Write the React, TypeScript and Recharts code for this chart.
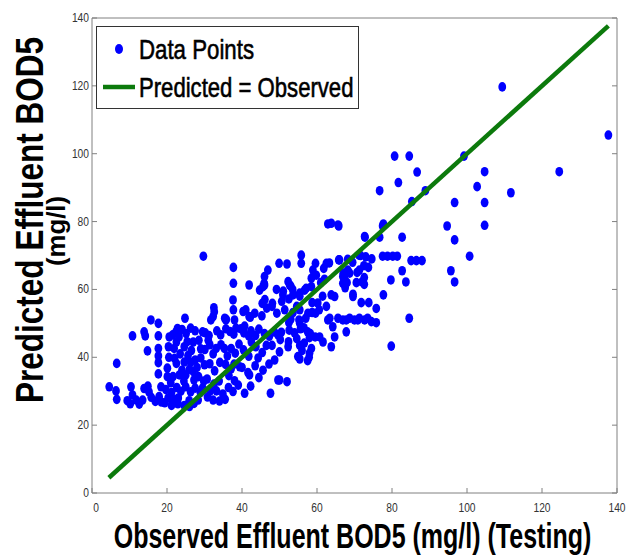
import { Label, Legend, Scatter, ScatterChart, XAxis, YAxis } from 'recharts'

const axisTicks = [0, 20, 40, 60, 80, 100, 120, 140]
const fitLine = [
  { x: 4.5, y: 4.5 },
  { x: 137.7, y: 137.7 },
]

// observed, predicted
const farLeft: [number, number][] = [
  [4.6, 31.3], [6.6, 38.2], [6.4, 30.1], [6.6, 27.6], [10.4, 31.3], [10.8, 28.9], [9.4, 27.2], [10.2, 26.3],
  [11.8, 27.4], [12.6, 26.2], [13.9, 30.8], [15.2, 29.8], [14.9, 31.5], [13.5, 27.4], [15.8, 28.2], [10.8, 46.3],
  [13.9, 47.5], [14.2, 46.3], [15.7, 51], [17.7, 50], [17.7, 46.3], [14.8, 41.9], [17.7, 42.6], [17.7, 40.4],
  [17.7, 38.4], [17.7, 35.1], [18.4, 31.3], [17.9, 28.4], [18.5, 26.8], [16.9, 27],
]

const lowCluster: [number, number][] = [
  [20.6, 46], [20.4, 43.1], [21.9, 42.6], [22.4, 47.5], [24, 48.2], [25.1, 47], [26.3, 48.6], [27.5, 47.8],
  [24.8, 51.5], [25.4, 44.6], [24.6, 43.1], [27, 44.5], [28.5, 45], [22, 39.7], [22.5, 38.2], [24.6, 38.6],
  [26.3, 38.5], [27.5, 39.2], [29, 39.8], [20.1, 36.8], [20.1, 34.3], [21.6, 34.3], [23.3, 34.8], [25, 34.8],
  [27.2, 33.3], [28.4, 34.3], [19.7, 30.5], [21.2, 29.6], [22.6, 31.1], [23.7, 30], [25, 31.3], [26.3, 29.8],
  [27.5, 30.9], [28.9, 29.6], [19.4, 26.6], [21.2, 25.8], [22.9, 26.3], [24.6, 25.8], [25.9, 27.2], [27.2, 26.4],
  [28.3, 27.4], [21, 32.5], [23, 28], [24.5, 33], [26, 36.5], [28, 37], [23.5, 41], [20.5, 40],
  [26.5, 42], [22.5, 44.5], [29, 42.5], [29.5, 47.5], [29.8, 33], [29.5, 31], [22, 27.5], [26, 25.5],
  [20.3, 28], [24, 36.2], [27, 35.8], [25.6, 40.5], [23.2, 46], [21.5, 46.6], [22.8, 48.5],
]

const midLeft: [number, number][] = [
  [29.7, 69.8], [37.7, 66.5], [37.7, 61.8], [37.6, 56.9], [37.7, 54], [32.6, 53.4], [31.7, 51], [35.7, 51],
  [32.5, 54.6], [35.8, 51.2], [38, 51], [32.3, 52], [35.4, 51.5], [30.2, 47.2], [31.2, 46.4], [31, 45],
  [33.3, 47.8], [34.3, 46.6], [35.7, 48.4], [36.8, 47.6], [37.8, 46.8], [38.4, 48.6], [39.7, 48.4], [30.1, 42.3],
  [31.4, 43.7], [32.3, 41], [33.1, 42.6], [34.4, 43.7], [35.3, 42.6], [36.1, 40.4], [37.1, 42.6], [38.2, 41.2],
  [39.2, 43.9], [30, 37.8], [31.4, 38.1], [32.7, 36], [34.1, 38.5], [35.6, 37.9], [37.1, 36.6], [37.9, 38],
  [39.4, 37.2], [30.7, 33.6], [32.5, 32.1], [33.9, 33], [33.2, 30.1], [34.9, 29.2], [36.4, 31.1], [38, 33.1],
  [37.6, 29.9], [35.5, 27.6], [30.8, 28.3], [32.3, 27.4], [34, 27.1], [31.5, 30], [36.5, 34.6], [39, 31.8],
]

const midCluster: [number, number][] = [
  [41.9, 61.3], [46.9, 65.7], [44.7, 59.8], [45.9, 61.8], [45.6, 60.8], [41, 54], [41.9, 52], [45.4, 55.9],
  [48.1, 55.9], [40.3, 53.5], [42.2, 51.8], [43.4, 53], [40.7, 49.2], [45.3, 52.2], [46.1, 57], [48, 55],
  [49.3, 53], [50.6, 56.5], [51.4, 54], [52.5, 57.2], [53.6, 53.2], [46.6, 54.5], [40.5, 47.2], [41.8, 46.3],
  [42.4, 47.8], [43.6, 46.4], [44.5, 48.3], [46, 47], [47.3, 46.2], [48.6, 47.5], [49.6, 46.6], [40.4, 42.2],
  [41.8, 40.3], [43.7, 43.1], [45.4, 41.4], [46.5, 43.5], [48, 43.5], [48.7, 39.2], [44.3, 39.8], [42.5, 44.5],
  [40, 37], [41.6, 35.5], [42, 34.8], [43.5, 37.5], [45.6, 36.2], [47.2, 38], [44.5, 34], [40.7, 29.4],
  [47.6, 29.4], [49.6, 33.3], [42.3, 31.5], [46, 63.8], [46, 61.3], [49.2, 60], [51, 59.5],
]

const midRight: [number, number][] = [
  [49.9, 67.7], [52, 67.5], [55.8, 70.1], [55.8, 67.7], [59.6, 67.7], [58.9, 65.7], [59.8, 64.2], [52.3, 62.3],
  [52.7, 61.3], [50.9, 58.4], [53.6, 58.4], [55.4, 58], [54.6, 55], [57.1, 60.3], [58.7, 53.2], [60.6, 54],
  [55.2, 51], [57, 51.5], [52.5, 50.2], [53, 51.2], [50.5, 47.4], [52.6, 48], [54, 47.2], [55.6, 48.4],
  [57.5, 47.5], [50.2, 45.2], [52.4, 44.6], [54.6, 45.5], [56.6, 44.2], [58, 45.8], [58.5, 42.6], [58, 41.2],
  [54.9, 40.2], [52.3, 43.1], [50, 41.6], [50, 33.3], [52, 32.8], [58.7, 56.1], [55.4, 54], [57.6, 53],
  [59.6, 53], [55.4, 50], [56.5, 48.7], [58.2, 47], [59.5, 46], [61.6, 44.5], [55.4, 43.5], [56, 42],
  [57.9, 40], [57.5, 39], [55.4, 39.5], [58.5, 60.8], [58.5, 63.3], [56.7, 59.8], [55.4, 58.9], [53, 61],
  [53.5, 60],
]

const upperRight: [number, number][] = [
  [62.9, 79.3], [65.6, 79], [62.5, 67.7], [61.8, 66.2], [66, 68.7], [68.2, 68.9], [71.2, 70.1], [72.7, 75.6],
  [70.7, 65], [72.5, 67], [74.6, 69], [67, 64.8], [68, 62], [67.5, 60.5], [70.5, 62], [72, 62.2],
  [63.8, 58.4], [64.7, 57.9], [69.6, 57.9], [71.8, 56.1], [73.8, 56.1], [75.8, 54.4], [63.4, 51.5], [65.6, 51.5],
  [68.7, 51.5], [71.3, 51.5], [73.5, 51.5], [75.8, 50.2], [64.7, 46], [67.8, 47.5], [63.8, 43.1], [60.7, 46],
  [62.9, 51], [66.9, 51], [67.8, 51], [70, 51], [70.9, 51], [72.7, 51], [74.5, 50.5], [64.2, 49],
  [63.8, 79.5], [65.8, 78.7], [65.8, 68.7], [68.7, 64.8], [66.9, 63.8], [66.9, 61.8], [71.6, 70], [73, 69.6],
  [71.3, 65.7], [72.6, 63.5], [72.6, 61.5], [73.7, 66.5], [69.6, 58.6], [63.3, 67.8], [69.5, 68], [68.2, 65.7],
  [67.3, 63.3], [60.2, 56], [61.5, 58], [62.5, 55], [61, 62], [62, 63],
]

const highObserved: [number, number][] = [
  [76.7, 89.1], [80.7, 99.3], [84.6, 99.3], [86.7, 94.6], [81.7, 91.5], [88.9, 89.1], [85.3, 85.9], [77.5, 78.7],
  [82.7, 75.4], [76.7, 75.4], [72.8, 75.4], [77.7, 79.3], [77.5, 69.8], [78.8, 69.8], [80.2, 69.8], [81.4, 69.8],
  [85.1, 68.5], [86.5, 68.5], [88, 68.5], [82.7, 65.5], [83.7, 62.2], [79.7, 62.8], [77.7, 58.4], [84.6, 51.5],
  [79.8, 43.3], [99.2, 99.3], [96.7, 85.6], [94.7, 78.7], [96.7, 74.6], [100.7, 69.8], [95.7, 65.5], [96.7, 62.2],
  [109.4, 119.7], [137.7, 105.5], [124.6, 94.7], [111.7, 88.5], [104.7, 94.7], [102.7, 90.3], [104.7, 85.6], [104.7, 78.9],
]

const points = [...farLeft, ...lowCluster, ...midLeft, ...midCluster, ...midRight, ...upperRight, ...highObserved].map(
  ([x, y]) => ({ x, y })
)

const axisGray = '#808080'
const dotBlue = '#0000ff'
const lineGreen = '#0c7a0c'
const sans = '"Liberation Sans", Arial, sans-serif'

const Dot = (props: any) => <ellipse cx={props.cx} cy={props.cy} rx={3.9} ry={4.8} fill={dotBlue} />

// narrow-looking tick labels: squeeze Liberation Sans horizontally
const BottomTick = ({ x, y, payload }: any) => (
  <g>
    <line x1={x} x2={x} y1={y} y2={y - 5} stroke={axisGray} />
    <text
      transform={`translate(${x + (payload.value === 0 ? 4 : 0)},${y + 19}) scale(0.82,1)`}
      textAnchor="middle"
      fontSize={12.5}
      fill="#333"
      fontFamily={sans}
    >
      {payload.value}
    </text>
  </g>
)

const LeftTick = ({ x, y, payload }: any) => (
  <g>
    <line x1={x} x2={x + 5} y1={y} y2={y} stroke={axisGray} />
    <text transform={`translate(${x - 3},${y + 4}) scale(0.82,1)`} textAnchor="end" fontSize={12.5} fill="#333" fontFamily={sans}>
      {payload.value}
    </text>
  </g>
)

const XTitle = ({ viewBox }: any) => (
  <text
    transform={`translate(${viewBox.x + viewBox.width / 2 - 2},${viewBox.y + 55}) scale(0.715,1)`}
    textAnchor="middle"
    fontSize={35}
    fontWeight="bold"
    fontFamily={sans}
    fill="#000"
  >
    Observed Effluent BOD5 (mg/l) (Testing)
  </text>
)

const YTitle = () => (
  <g>
    <text
      transform="translate(43,220) rotate(-90) scale(0.83,1)"
      textAnchor="middle"
      fontSize={38}
      fontWeight="bold"
      fontFamily={sans}
      fill="#000"
    >
      Predicted Effluent BOD5
    </text>
    <text
      transform="translate(65,231) rotate(-90) scale(1.03,1)"
      textAnchor="middle"
      fontSize={25}
      fontWeight="bold"
      fontFamily={sans}
      fill="#000"
    >
      (mg/l)
    </text>
  </g>
)

const LegendBox = () => (
  <svg width={263} height={83} style={{ display: 'block' }}>
    <rect x={0.5} y={0.5} width={262} height={82} fill="#fff" stroke="#333" />
    <ellipse cx={23} cy={23} rx={4} ry={5} fill={dotBlue} />
    <text transform="translate(43,33) scale(0.795,1)" fontSize={28} fontFamily={sans} fill="#000" stroke="#000" strokeWidth={0.6}>
      Data Points
    </text>
    <line x1={7} x2={39} y1={61} y2={61} stroke={lineGreen} strokeWidth={4.5} />
    <text transform="translate(43,71) scale(0.79,1)" fontSize={28} fontFamily={sans} fill="#000" stroke="#000" strokeWidth={0.6}>
      Predicted = Observed
    </text>
  </svg>
)

export default function App() {
  return (
    <div style={{ position: 'absolute', left: 0, top: 0, background: '#fff' }}>
      <ScatterChart width={629} height={559} margin={{ top: 18, right: 12, bottom: 0, left: 0 }}>
        <XAxis
          type="number"
          dataKey="x"
          domain={[0, 140]}
          ticks={axisTicks}
          allowDataOverflow
          height={66}
          stroke={axisGray}
          tickLine={false}
          tickSize={0}
          tickMargin={0}
          tick={BottomTick}
        >
          <Label content={XTitle} />
        </XAxis>
        <YAxis
          type="number"
          dataKey="y"
          domain={[0, 140]}
          ticks={axisTicks}
          allowDataOverflow
          width={92}
          stroke={axisGray}
          tickLine={false}
          tickSize={0}
          tickMargin={0}
          tick={LeftTick}
        >
          <Label content={YTitle} />
        </YAxis>
        <XAxis
          xAxisId="top"
          orientation="top"
          type="number"
          domain={[0, 140]}
          ticks={axisTicks}
          allowDataOverflow
          mirror
          stroke={axisGray}
          tickSize={5}
          tickFormatter={() => ''}
        />
        <YAxis
          yAxisId="right"
          orientation="right"
          type="number"
          domain={[0, 140]}
          ticks={axisTicks}
          allowDataOverflow
          mirror
          stroke={axisGray}
          tickSize={5}
          tickFormatter={() => ''}
        />
        <Legend
          layout="vertical"
          align="center"
          verticalAlign="middle"
          content={LegendBox}
          wrapperStyle={{ left: 96, top: 26, width: 263, height: 83 }}
        />
        <Scatter data={points} fill={dotBlue} shape={Dot} isAnimationActive={false} />
        <Scatter
          data={fitLine}
          line={{ stroke: lineGreen, strokeWidth: 4.5 }}
          shape={() => <g />}
          legendType="none"
          isAnimationActive={false}
        />
      </ScatterChart>
    </div>
  )
}
